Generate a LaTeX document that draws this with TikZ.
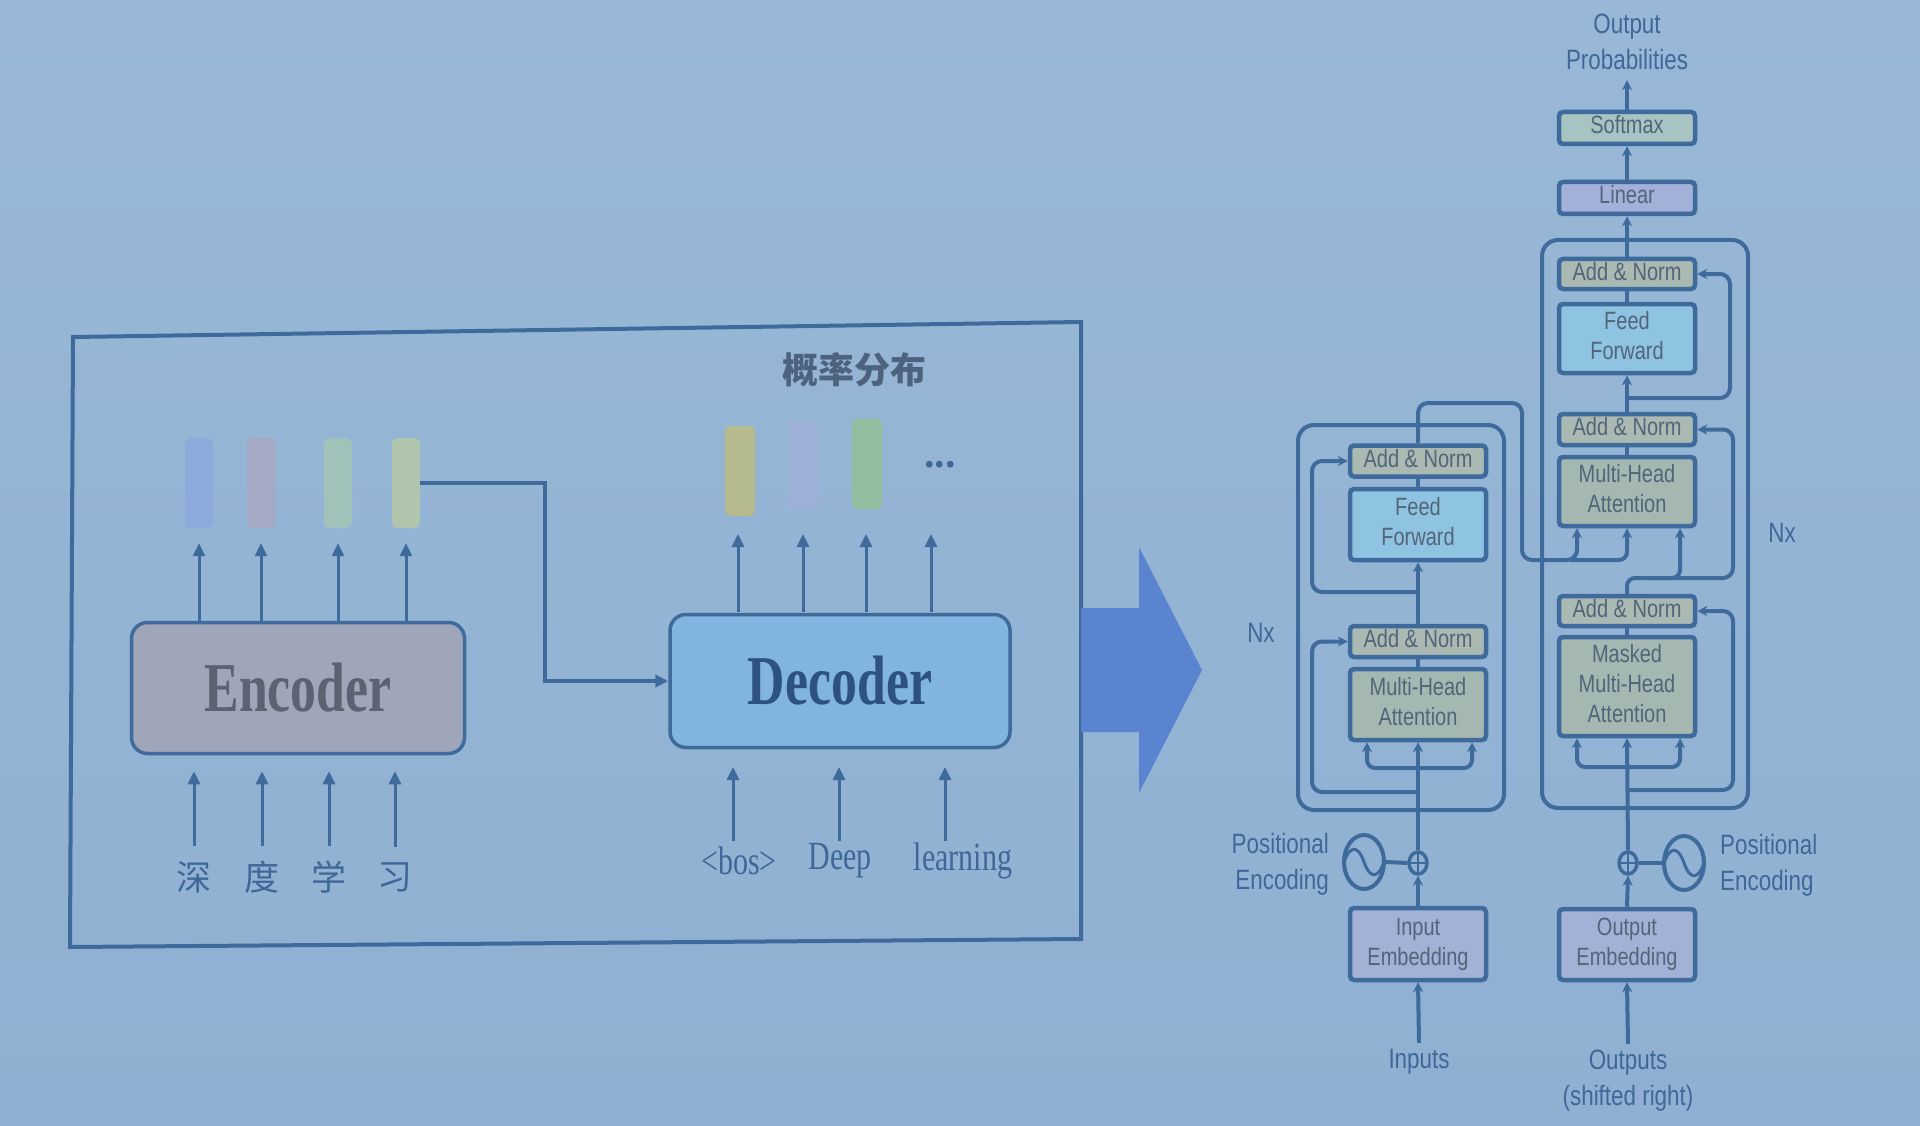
\documentclass[tikz,border=0pt]{standalone}
\usepackage{fontspec}
\usepackage{graphicx}
\setmainfont{Liberation Serif}
\newfontfamily\tsans{Liberation Sans}
\newfontfamily\cjk{Noto Sans CJK SC}
\usetikzlibrary{arrows.meta,shapes.geometric,calc}
\definecolor{bgtop}{HTML}{99B8D7}
\definecolor{bgbot}{HTML}{8FB0D2}
\definecolor{ln}{HTML}{3E6A9C}
\definecolor{txt}{HTML}{3F6898}
\definecolor{btxt}{HTML}{52657A}
\definecolor{encf}{HTML}{A0A6B9}
\definecolor{enct}{HTML}{5B6272}
\definecolor{decf}{HTML}{82B4E0}
\definecolor{dect}{HTML}{2D5280}
\definecolor{anf}{HTML}{AAB9B2}
\definecolor{mhaf}{HTML}{A4B7B1}
\definecolor{fff}{HTML}{8FC3E2}
\definecolor{smf}{HTML}{A7C4C2}
\definecolor{linf}{HTML}{A3B1DA}
\definecolor{embf}{HTML}{A4B1D7}
\definecolor{bigarr}{HTML}{5A83D0}
\definecolor{ebA}{HTML}{8CABDC}
\definecolor{ebB}{HTML}{A6A9C3}
\definecolor{ebC}{HTML}{A0C2B8}
\definecolor{ebD}{HTML}{AFC6AC}
\definecolor{dbA}{HTML}{B6BB8E}
\definecolor{dbB}{HTML}{9CB0D8}
\definecolor{dbC}{HTML}{92BE9F}
\definecolor{cjkt}{HTML}{4D627E}
\newcommand{\sqz}[3][0.8]{\scalebox{#1}[1]{\begin{tabular}{@{}#2@{}}#3\end{tabular}}}
\tikzset{
  larr/.style={line width=3pt, draw=ln, -{Triangle[length=13pt,width=12pt]}},
  tline/.style={line width=4pt, draw=ln},
  tarr/.style={line width=4pt, draw=ln, -{Stealth[length=10pt,width=10pt]}},
  tbox/.style={draw=ln, line width=4.5pt, rounded corners=4pt, minimum width=136pt,
    inner sep=0pt, font=\tsans\fontsize{25}{30}\selectfont, text=btxt},
  tlabel/.style={inner sep=0pt, font=\tsans\fontsize{28}{36}\selectfont, text=txt},
  bar/.style={rounded corners=6pt, minimum width=28pt, minimum height=90pt, inner sep=0pt},
  bigbox/.style={draw=ln, line width=3.5pt, rounded corners=16pt, inner sep=0pt},
  serlab/.style={inner sep=0pt, font=\fontsize{40}{44}\selectfont, text=txt},
  cjklab/.style={inner sep=0pt, font=\cjk\fontsize{35}{40}\selectfont, text=txt},
  pe/.style={draw=ln, line width=4pt, ellipse, inner sep=0pt, minimum width=40pt, minimum height=54pt},
  plusn/.style={draw=ln, line width=3.5pt, ellipse, inner sep=0pt, minimum width=18pt, minimum height=22pt}
}
\begin{document}
\begin{tikzpicture}[x=1pt,y=-1pt]
\useasboundingbox (0,0) rectangle (1920,1126);
\shade[top color=bgtop, bottom color=bgbot] (0,0) rectangle (1920,1126);

% ---------- left frame ----------
\draw[ln, line width=4pt] (73,337) -- (1081,322) -- (1081,939) -- (70,947) -- cycle;

% encoder / decoder boxes
\node[bigbox, fill=encf, minimum width=333pt, minimum height=131pt] (enc) at (298,688)
  {\scalebox{0.74}[1]{\fontsize{70}{80}\selectfont\bfseries\color{enct}Encoder}};
\node[bigbox, fill=decf, minimum width=340pt, minimum height=133pt] (dec) at (840,681)
  {\scalebox{0.74}[1]{\fontsize{70}{80}\selectfont\bfseries\color{dect}Decoder}};

% encoder output bars
\node[bar, fill=ebA] (eb1) at (199,483) {};
\node[bar, fill=ebB] (eb2) at (261,483) {};
\node[bar, fill=ebC] (eb3) at (338,483) {};
\node[bar, fill=ebD] (eb4) at (406,483) {};
\foreach \b in {eb1,eb2,eb3,eb4}
  \draw[larr] (\b |- enc.north) -- ([yshift=-15pt]\b.south);

% chinese inputs
\node[cjklab] (c1) at (194,877) {深};
\node[cjklab] (c2) at (262,877) {度};
\node[cjklab] (c3) at (329,877) {学};
\node[cjklab] (c4) at (395,877) {习};
\foreach \c in {c1,c2,c3,c4}
  \draw[larr] ([yshift=15pt]\c.north) -- ([yshift=-16pt]\c |- enc.south);

% connector encoder -> decoder
\draw[larr, line width=3.5pt] (eb4.east) -- ++(125,0) |- (dec.west);

% decoder output bars
\node[bar, fill=dbA, minimum width=30pt] (db1) at (740,471) {};
\node[bar, fill=dbB, minimum width=30pt] (db2) at (803,465) {};
\node[bar, fill=dbC, minimum width=30pt] (db3) at (867,464) {};
\node[inner sep=0pt, font=\bfseries\fontsize{42}{42}\selectfont, text=txt] (dots) at (940,465) {...};
\node[inner sep=0pt, font=\cjk\bfseries\fontsize{36}{40}\selectfont, text=cjkt] (prob) at (854,370) {概率分布};
\foreach \x in {738,803,866,931}
  \draw[larr] (\x,612) -- (\x,534);

% decoder inputs
\node[serlab] (bos) at (739,861) {\scalebox{0.75}[1]{<bos>}};
\node[serlab] (deep) at (840,861) {\scalebox{0.75}[1]{Deep}};
\node[serlab] (learn) at (963,861) {\scalebox{0.75}[1]{learning}};
\draw[larr] (733,841) -- (733,767);
\draw[larr] (839,841) -- (839,767);
\draw[larr] (945,841) -- (945,767);

% big arrow
\fill[bigarr] (1081,608) -- (1139,608) -- (1139,547) -- (1202,670) -- (1139,793) -- (1139,732) -- (1081,732) -- cycle;

% ---------- transformer ----------
% stack frames
\draw[tline, rounded corners=16pt] (1298,425) rectangle (1504,810);
\draw[tline, rounded corners=16pt] (1542,240) rectangle (1748,808);

% decoder column
\node[tbox, fill=smf, minimum height=32pt] (softmax) at (1627,128) {\sqz{c}{Softmax}};
\node[tbox, fill=linf, minimum height=32pt] (linear) at (1627,198) {\sqz{c}{Linear}};
\node[tbox, fill=anf, minimum height=30pt] (dan3) at (1627,274) {\sqz{c}{Add \& Norm}};
\node[tbox, fill=fff, minimum height=69pt] (dff) at (1627,338.5) {\sqz{c}{Feed\\Forward}};
\node[tbox, fill=anf, minimum height=31pt] (dan2) at (1627,429.5) {\sqz{c}{Add \& Norm}};
\node[tbox, fill=mhaf, minimum height=69pt] (dmha) at (1627,491.5) {\sqz{c}{Multi-Head\\Attention}};
\node[tbox, fill=anf, minimum height=30pt] (dan1) at (1627,611) {\sqz{c}{Add \& Norm}};
\node[tbox, fill=mhaf, minimum height=99pt] (dmmha) at (1627,686.5) {\sqz{c}{Masked\\Multi-Head\\Attention}};
\node[tbox, fill=embf, minimum height=71pt] (oemb) at (1627,944.5) {\sqz{c}{Output\\Embedding}};
\node[plusn] (dplus) at (1628,863) {};
\node[pe] (dpe) at (1684,863) {};

% encoder column
\node[tbox, fill=anf, minimum height=31pt] (ean2) at (1418,461) {\sqz{c}{Add \& Norm}};
\node[tbox, fill=fff, minimum height=71pt] (eff) at (1418,524.5) {\sqz{c}{Feed\\Forward}};
\node[tbox, fill=anf, minimum height=31pt] (ean1) at (1418,641.5) {\sqz{c}{Add \& Norm}};
\node[tbox, fill=mhaf, minimum height=71pt] (emha) at (1418,704.5) {\sqz{c}{Multi-Head\\Attention}};
\node[tbox, fill=embf, minimum height=72pt] (iemb) at (1418,944) {\sqz{c}{Input\\Embedding}};
\node[plusn] (eplus) at (1418,863) {};
\node[pe] (epe) at (1364,862) {};

% plus signs and sine waves
\foreach \p in {eplus,dplus}{
  \draw[ln, line width=2.5pt] ([xshift=-7pt]\p.center) -- ([xshift=7pt]\p.center);
  \draw[ln, line width=2.5pt] ([yshift=-9pt]\p.center) -- ([yshift=9pt]\p.center);
}
\foreach \p in {epe,dpe}{
  \draw[ln, line width=3pt] ($(\p.center)+(-20,0)$) .. controls +(6,-17) and +(-6,-17) .. (\p.center)
     .. controls +(6,17) and +(-6,17) .. ($(\p.center)+(20,0)$);
}

% labels
\node[tlabel, align=center] (outp) at (1627,44) {\sqz{c}{Output\\Probabilities}};
\node[tlabel, anchor=east] (pel) at (1329,864) {\sqz{r}{Positional\\Encoding}};
\node[tlabel, anchor=west] (per) at (1720,865) {\sqz{l}{Positional\\Encoding}};
\node[tlabel] (inl) at (1419,1061) {\sqz{c}{Inputs}};
\node[tlabel] (outl) at (1628,1080) {\sqz{c}{Outputs\\(shifted right)}};
\node[tlabel] (nxl) at (1261,635) {\sqz{c}{Nx}};
\node[tlabel] (nxr) at (1782,535) {\sqz{c}{Nx}};

% top arrows
\draw[tarr] (softmax.north) -- (outp.south);
\draw[tarr] (linear.north) -- (softmax.south);
\draw[tarr] (dan3.north) -- (linear.south);
\draw[tline] (dff.north) -- (dan3.south);
\draw[tarr] (dan2.north) -- (dff.south);
\draw[tline] (dmha.north) -- (dan2.south);
\draw[tline] (dmmha.north) -- (dan1.south);

% decoder residuals
\draw[tarr, rounded corners=10pt] (1627,398) -| (1730,274) -- (dan3.east);
\draw[tarr, rounded corners=10pt] (1650,578) -| (1733,429.5) -- (dan2.east);
\draw[tarr, rounded corners=10pt] (1627,790) -| (1733,611) -- (dan1.east);
% decoder self path to Q
\draw[tarr, rounded corners=8pt] (dan1.north) |- (1680,578) -- ([xshift=53pt]dmha.south);
% decoder masked fork
\draw[tarr] (dplus.north) -- (dmmha.south);
\draw[tarr, rounded corners=8pt] (1627,767) -| ([xshift=-50pt]dmmha.south);
\draw[tarr, rounded corners=8pt] (1627,767) -| ([xshift=53pt]dmmha.south);
% decoder bottom
\draw[tarr] (oemb.north) -- (dplus.south);
\draw[tline] (dplus.east) -- (dpe.west);
\draw[tarr] (outl.north) -- (oemb.south);

% encoder internals
\draw[tline] (eff.north) -- (ean2.south);
\draw[tarr] (ean1.north) -- (eff.south);
\draw[tline] (emha.north) -- (ean1.south);
\draw[tarr, rounded corners=10pt] (1418,592) -| (1312,461) -- (ean2.west);
\draw[tarr, rounded corners=10pt] (1418,792) -| (1312,641.5) -- (ean1.west);
\draw[tarr] (eplus.north) -- (emha.south);
\draw[tarr, rounded corners=8pt] (1418,768) -| ([xshift=-51pt]emha.south);
\draw[tarr, rounded corners=8pt] (1418,768) -| ([xshift=54pt]emha.south);
\draw[tarr] (iemb.north) -- (eplus.south);
\draw[tline] (epe.east) -- (eplus.west);
\draw[tarr] (inl.north) -- (iemb.south);

% encoder output into decoder
\draw[tarr, rounded corners=10pt] (ean2.north) |- (1522,403) |- (1577,560) -- ([xshift=-50pt]dmha.south);
\draw[tarr, rounded corners=8pt] (1570,560) -| (dmha.south);
\end{tikzpicture}
\end{document}
